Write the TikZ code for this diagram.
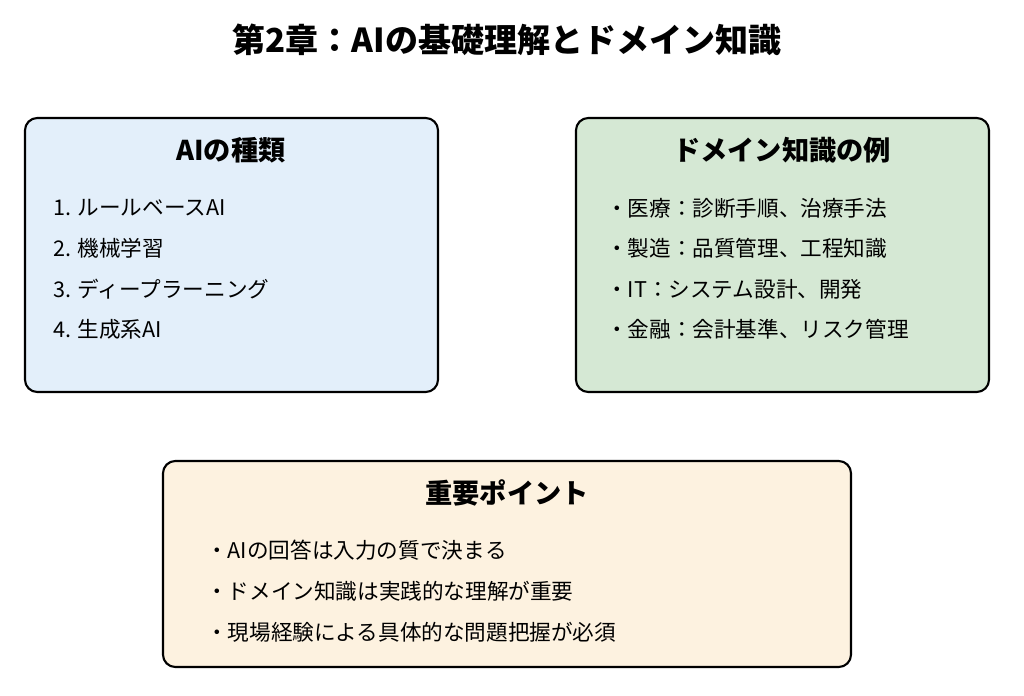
\documentclass[tikz,border=0pt]{standalone}
\usepackage{fontspec}
\setmainfont{Noto Sans CJK JP}
\definecolor{typefill}{HTML}{E3EFFA}
\definecolor{domfill}{HTML}{D5E8D4}
\definecolor{keyfill}{HTML}{FDF2E0}
\begin{document}
\begin{tikzpicture}[x=0.02cm, y=-0.02cm,
    panel/.style={draw, line width=1.2pt, rounded corners=7pt},
    head/.style={font=\fontsize{15.5}{18}\selectfont\bfseries},
    item/.style={anchor=west, font=\fontsize{12.3}{14}\selectfont}]

    \useasboundingbox (0,0) rectangle (1024,696);

    % Title
    \node[font=\fontsize{18.8}{22}\selectfont\bfseries] (title) at (507,40) {第2章：AIの基礎理解とドメイン知識};

    % AI types
    \draw[panel, fill=typefill] (25,118) rectangle (438,392);
    \node[head] (typehead) at (231,150) {AIの種類};
    \node[item] (type1) at (47,208) {1. ルールベースAI};
    \node[item] (type2) at (47,248) {2. 機械学習};
    \node[item] (type3) at (47,289) {3. ディープラーニング};
    \node[item] (type4) at (47,329) {4. 生成系AI};

    % Domain knowledge
    \draw[panel, fill=domfill] (576,118) rectangle (989,392);
    \node[head] (domhead) at (782,150) {ドメイン知識の例};
    \node[item] (dom1) at (600,208) {・医療：診断手順、治療手法};
    \node[item] (dom2) at (600,248) {・製造：品質管理、工程知識};
    \node[item] (dom3) at (600,289) {・IT：システム設計、開発};
    \node[item] (dom4) at (600,329) {・金融：会計基準、リスク管理};

    % Key points
    \draw[panel, fill=keyfill] (163,461) rectangle (851,667);
    \node[head] (keyhead) at (507,493) {重要ポイント};
    \node[item] (key1) at (200,550) {・AIの回答は入力の質で決まる};
    \node[item] (key2) at (200,591) {・ドメイン知識は実践的な理解が重要};
    \node[item] (key3) at (200,632) {・現場経験による具体的な問題把握が必須};

\end{tikzpicture}
\end{document}
